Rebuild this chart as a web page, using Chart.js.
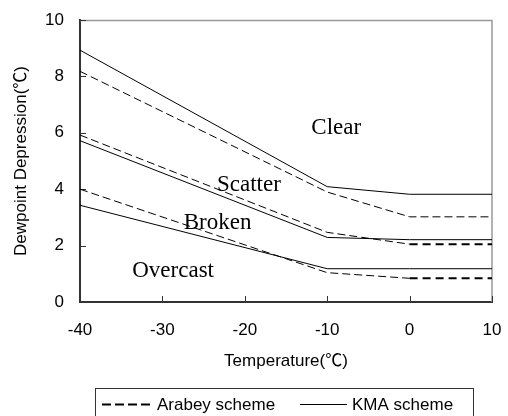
<!DOCTYPE html>
<html>
<head>
<meta charset="utf-8">
<script src="https://cdn.jsdelivr.net/npm/chart.js@4/dist/chart.umd.min.js"></script>
<style>
  html, body { margin: 0; padding: 0; background: #fff; }
  canvas { display: block; }
</style>
</head>
<body>
<canvas id="chart" width="508" height="416"></canvas>
<script>
// Temperature break points (x axis)
const temps = [-40, -10, 0, 10];

// KMA scheme (solid lines)
const kmaClear   = [8.93, 4.09, 3.82, 3.82];
const kmaScatter = [5.72, 2.29, 2.21, 2.21];
const kmaBroken  = [3.43, 1.18, 1.18, 1.18];

// Arabey scheme (dashed lines)
const arabeyClear   = [8.18, 3.9, 3.02, 3.02];
const arabeyScatter = [5.92, 2.47, 2.05, 2.05];
const arabeyBroken  = [4.0, 1.04, 0.84, 0.84];

const xTicks = [-40, -30, -20, -10, 0, 10];
const yTicks = [0, 2, 4, 6, 8, 10];

const legendLabels = ['Arabey scheme', 'KMA scheme'];

// Region names, placed in data units
const regionNames = ['Clear', 'Scatter', 'Broken', 'Overcast'];
const regionX = [-8.9, -19.5, -23.3, -28.7];
const regionY = [5.95, 3.95, 2.6, 0.88];

const SANS = "'Liberation Sans', 'Noto Sans CJK SC', sans-serif";
const SERIF = "'Liberation Serif', 'Times New Roman', serif";

const toPoints = (vals) => vals.map((v, i) => ({ x: temps[i], y: v }));

const solidSet = (vals) => ({
    label: legendLabels[1],
    data: toPoints(vals),
    borderColor: '#000',
    borderWidth: 1,
    pointRadius: 0,
    fill: false,
    tension: 0
});

// the flat part of the lower dashed lines is drawn heavier in the original
const dashedSet = (vals, heavyTail) => ({
    label: legendLabels[0],
    data: toPoints(vals),
    borderColor: '#000',
    borderWidth: 1,
    borderDash: [8, 4],
    pointRadius: 0,
    fill: false,
    tension: 0,
    segment: {
        borderWidth: ctx => (heavyTail && ctx.p0DataIndex === 2) ? 2 : 1,
        borderDash: ctx => (heavyTail && ctx.p0DataIndex === 2) ? [8, 5] : [8, 4]
    }
});

const framePlugin = {
    id: 'frame',
    beforeDatasetsDraw(chart) {
        const { ctx, chartArea: a, scales: { x, y } } = chart;
        ctx.save();
        // light top / right frame
        ctx.strokeStyle = '#999';
        ctx.lineWidth = 1.5;
        ctx.beginPath();
        ctx.moveTo(a.left, a.top + 0.5);
        ctx.lineTo(a.right, a.top + 0.5);
        ctx.lineTo(a.right, a.bottom);
        ctx.stroke();
        // inward tick marks
        ctx.strokeStyle = '#333';
        ctx.lineWidth = 1;
        ctx.beginPath();
        x.ticks.forEach(t => {
            const px = Math.round(x.getPixelForValue(t.value)) + 0.5;
            ctx.moveTo(px, a.bottom);
            ctx.lineTo(px, a.bottom - 6);
        });
        y.ticks.forEach(t => {
            const py = Math.round(y.getPixelForValue(t.value)) + 0.5;
            ctx.moveTo(a.left, py);
            ctx.lineTo(a.left + 6, py);
        });
        ctx.stroke();
        ctx.restore();
    },
    afterDatasetsDraw(chart) {
        const { ctx, scales: { x, y } } = chart;
        ctx.save();
        ctx.fillStyle = '#000';
        ctx.font = '23px ' + SERIF;
        ctx.textAlign = 'center';
        ctx.textBaseline = 'alphabetic';
        regionNames.forEach((name, i) => {
            ctx.fillText(name, x.getPixelForValue(regionX[i]), y.getPixelForValue(regionY[i]));
        });
        ctx.restore();
    },
    afterDraw(chart) {
        // legend with a box round it
        const { ctx } = chart;
        ctx.save();
        ctx.strokeStyle = '#333';
        ctx.lineWidth = 1;
        ctx.strokeRect(95.5, 388.5, 378, 40);
        const ly = 404.5;
        ctx.strokeStyle = '#000';
        ctx.lineWidth = 2;
        ctx.setLineDash([9, 4]);
        ctx.beginPath();
        ctx.moveTo(102, ly);
        ctx.lineTo(151, ly);
        ctx.stroke();
        ctx.setLineDash([]);
        ctx.lineWidth = 1;
        ctx.beginPath();
        ctx.moveTo(300, ly);
        ctx.lineTo(347, ly);
        ctx.stroke();
        ctx.fillStyle = '#000';
        ctx.font = '17px ' + SANS;
        ctx.textBaseline = 'middle';
        ctx.textAlign = 'left';
        ctx.fillText(legendLabels[0], 157, ly + 1);
        ctx.fillText(legendLabels[1], 352, ly + 1);
        ctx.restore();
    }
};

new Chart(document.getElementById('chart').getContext('2d'), {
    type: 'line',
    data: {
        datasets: [
            dashedSet(arabeyClear, false),
            dashedSet(arabeyScatter, true),
            dashedSet(arabeyBroken, true),
            solidSet(kmaClear),
            solidSet(kmaScatter),
            solidSet(kmaBroken)
        ]
    },
    plugins: [framePlugin],
    options: {
        responsive: false,
        devicePixelRatio: 1,
        animation: false,
        layout: { padding: { top: 20, right: 16, bottom: 44, left: 0 } },
        plugins: {
            legend: { display: false },
            tooltip: { enabled: false }
        },
        scales: {
            x: {
                type: 'linear',
                min: -40,
                max: 10,
                afterFit: s => { s.height = 70; s.paddingLeft = 0; s.paddingRight = 0; },
                afterBuildTicks: s => { s.ticks = xTicks.map(v => ({ value: v })); },
                grid: { display: false, drawTicks: false },
                border: { display: true, color: '#333', width: 2 },
                ticks: { color: '#000', font: { size: 17, family: SANS }, padding: 18, maxRotation: 0 },
                title: {
                    display: true,
                    text: 'Temperature(℃)',
                    color: '#000',
                    font: { size: 17, family: SANS },
                    padding: { top: 0, bottom: 0 }
                }
            },
            y: {
                min: 0,
                max: 10,
                afterFit: s => { s.width = 80; s.paddingTop = 0; s.paddingBottom = 0; },
                afterBuildTicks: s => { s.ticks = yTicks.map(v => ({ value: v })); },
                grid: { display: false, drawTicks: false },
                border: { display: true, color: '#333', width: 2 },
                ticks: { color: '#000', font: { size: 17, family: SANS }, padding: 16 },
                title: {
                    display: true,
                    text: 'Dewpoint Depression(℃)',
                    color: '#000',
                    font: { size: 17, family: SANS },
                    padding: { top: 11, bottom: 0 }
                }
            }
        }
    }
});
</script>
</body>
</html>
